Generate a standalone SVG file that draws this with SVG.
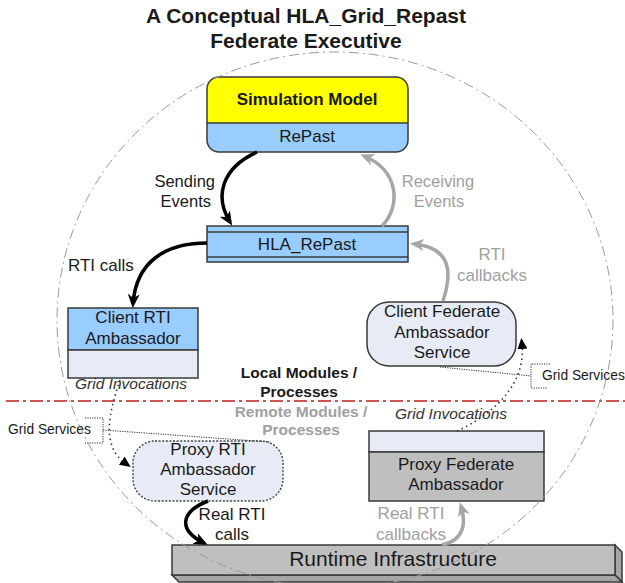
<svg xmlns="http://www.w3.org/2000/svg" width="625" height="583" viewBox="0 0 625 583">
<style>
text{font-family:"Liberation Sans",Arial,sans-serif;fill:#1a1a1a}
.t{font-size:17px;text-anchor:middle}
.g{fill:#a0a0a0}
.b{font-weight:bold}
.i{font-style:italic;font-size:15.5px;fill:#333}
.box{stroke:#3a3a3a;stroke-width:1.5}
.blue{fill:#99ccff}
.lite{fill:#e6ebf5}
.grey{fill:#bfbfbf}
.thk{fill:none;stroke-width:3.5}
.dot{fill:none;stroke:#333;stroke-width:1.6;stroke-dasharray:1.5 3.5}
.fine{fill:none;stroke:#333;stroke-width:1;stroke-dasharray:1.2 1.2}
.gs{font-size:13.8px}
</style>
<defs>
<marker id="ab" markerUnits="userSpaceOnUse" markerWidth="16" markerHeight="14" refX="10" refY="6" orient="auto" viewBox="0 0 16 14">
<path d="M0,0 L14,6 L0,12 L4,6 z" fill="#000"/>
</marker>
<marker id="ag" markerUnits="userSpaceOnUse" markerWidth="16" markerHeight="14" refX="10" refY="6" orient="auto" viewBox="0 0 16 14">
<path d="M0,0 L14,6 L0,12 L4,6 z" fill="#a6a6a6"/>
</marker>
<marker id="as" markerUnits="userSpaceOnUse" markerWidth="12" markerHeight="10" refX="4" refY="5" orient="auto" viewBox="0 0 12 10">
<path d="M0,0 L11,5 L0,10 z" fill="#000"/>
</marker>
</defs>

<g id="title">
<text x="306" y="23" class="b" font-size="21" text-anchor="middle">A Conceptual HLA_Grid_Repast</text>
<text x="306" y="48" class="b" font-size="21" text-anchor="middle">Federate Executive</text>
</g>

<g id="divider">
<line x1="6" y1="401" x2="625" y2="401" stroke="#cc5555" stroke-width="2" stroke-dasharray="13 4 3 4"/>
<text x="299" y="378" class="b" font-size="15.5" text-anchor="middle">Local Modules /</text>
<text x="299" y="397" class="b" font-size="15.5" text-anchor="middle">Processes</text>
<text x="301" y="417" class="b g" font-size="15.5" text-anchor="middle">Remote Modules /</text>
<text x="301" y="435" class="b g" font-size="15.5" text-anchor="middle">Processes</text>
</g>

<g id="simulation-model">
<path d="M219,77 H396 A12,12 0 0 1 408,89 V123 H207 V89 A12,12 0 0 1 219,77 z" fill="#ffff00"/>
<path d="M207,123 H408 V140 A12,12 0 0 1 396,152 H219 A12,12 0 0 1 207,140 z" class="blue"/>
<rect x="207" y="77" width="201" height="75" rx="12" fill="none" class="box"/>
<line x1="207" y1="123" x2="408" y2="123" class="box"/>
<text x="307" y="105" class="t b">Simulation Model</text>
<text x="307" y="142" class="t">RePast</text>
</g>

<g id="hla-repast">
<rect x="207" y="226" width="201" height="36" class="box blue"/>
<line x1="207" y1="232" x2="408" y2="232" class="box"/>
<line x1="207" y1="257" x2="408" y2="257" class="box"/>
<text x="307" y="250" class="t">HLA_RePast</text>
</g>

<g id="client-rti-ambassador">
<rect x="68" y="308" width="130" height="42" class="box blue"/>
<rect x="68" y="350" width="130" height="28" class="box lite"/>
<text x="133" y="323" class="t">Client RTI</text>
<text x="133" y="344" class="t">Ambassador</text>
<text x="131" y="389" class="i" text-anchor="middle">Grid Invocations</text>
</g>

<g id="client-federate-ambassador-service">
<rect x="367" y="302" width="149" height="64" rx="22" class="box lite"/>
<text x="442" y="317" class="t">Client Federate</text>
<text x="442" y="338" class="t">Ambassador</text>
<text x="442" y="358" class="t">Service</text>
</g>

<g id="grid-services-right">
<path d="M550,364 H531 V388 H548" class="fine"/>
<text x="542" y="380" class="gs">Grid Services</text>
</g>

<g id="grid-services-left">
<path d="M85,418 H103 V443 H85" class="fine"/>
<text x="8" y="434" class="gs">Grid Services</text>
</g>

<g id="proxy-rti-ambassador-service">
<rect x="133" y="441" width="150" height="60" rx="22" class="lite" stroke="#444" stroke-width="1.4" stroke-dasharray="2 1.6"/>
<text x="208" y="455" class="t">Proxy RTI</text>
<text x="208" y="475" class="t">Ambassador</text>
<text x="208" y="495" class="t">Service</text>
</g>

<g id="proxy-federate-ambassador">
<rect x="369" y="431" width="175" height="21" class="box lite"/>
<rect x="369" y="452" width="175" height="49" class="box grey"/>
<text x="456" y="470" class="t">Proxy Federate</text>
<text x="456" y="490" class="t">Ambassador</text>
<text x="451" y="419" class="i" text-anchor="middle">Grid Invocations</text>
</g>

<g id="runtime-infrastructure">
<polygon points="615,545 622,552 622,582 615,575" fill="#a6a6a6" class="box"/>
<polygon points="172,575 615,575 622,582 179,582" fill="#a6a6a6" class="box"/>
<rect x="172" y="545" width="443" height="30" class="box grey"/>
<text x="393" y="566" text-anchor="middle" font-size="21">Runtime Infrastructure</text>
</g>

<g id="connectors">
<path d="M257,152 C222,168 214,196 230,222" class="thk" stroke="#000" marker-end="url(#ab)"/>
<path d="M382,226 C402,205 398,170 364,156" class="thk" stroke="#a6a6a6" marker-end="url(#ag)"/>
<path d="M207,243 C165,243 136,262 133,304" class="thk" stroke="#000" marker-end="url(#ab)"/>
<path d="M443,301 C455,265 445,247 414,244" class="thk" stroke="#a6a6a6" marker-end="url(#ag)"/>
<path d="M208,501 C180,512 178,530 204,543" class="thk" stroke="#000" marker-end="url(#ab)"/>
<path d="M442,545 C465,540 466,522 461,506" class="thk" stroke="#a6a6a6" marker-end="url(#ag)"/>
<path d="M457,431 C492,415 526,385 522,345" class="dot" marker-end="url(#as)"/>
<path d="M120,380 C110,410 100,445 125,463" class="dot" marker-end="url(#as)"/>
<path d="M103,430 L270,442" class="fine"/>
<path d="M440,367 L531,376" class="fine"/>
</g>

<g id="labels">
<text x="215" y="187" font-size="16.5" text-anchor="end">Sending</text>
<text x="211" y="207" font-size="16.5" text-anchor="end">Events</text>
<text x="438" y="187" font-size="16.5" text-anchor="middle" class="g">Receiving</text>
<text x="439" y="207" font-size="16.5" text-anchor="middle" class="g">Events</text>
<text x="68" y="271" font-size="17">RTI calls</text>
<text x="492" y="260" font-size="17" text-anchor="middle" class="g">RTI</text>
<text x="492" y="281" font-size="17" text-anchor="middle" class="g">callbacks</text>
<text x="232" y="520" font-size="17" text-anchor="middle">Real RTI</text>
<text x="232" y="540" font-size="17" text-anchor="middle">calls</text>
<text x="411" y="519" font-size="17" text-anchor="middle" class="g">Real RTI</text>
<text x="411" y="540" font-size="17" text-anchor="middle" class="g">callbacks</text>
</g>

<g id="federate-boundary">
<ellipse cx="335" cy="320" rx="278" ry="268" fill="none" stroke="#9a9a9a" stroke-width="1" stroke-dasharray="10 4 2 4"/>
</g>
</svg>
